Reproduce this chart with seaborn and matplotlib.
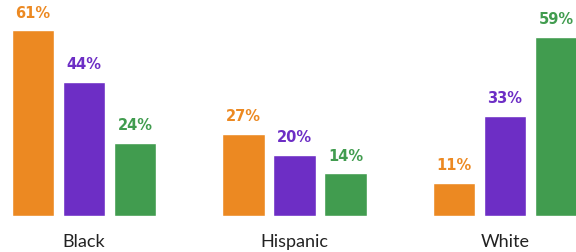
import matplotlib
matplotlib.use("Agg")
import matplotlib.pyplot as plt
import seaborn as sns
import pandas as pd

groups = ["Black", "Hispanic", "White"]
series = ["Series 1", "Series 2", "Series 3"]
values_s1 = [61, 27, 11]
values_s2 = [44, 20, 33]
values_s3 = [24, 14, 59]
colors = ["#EC8922", "#6D2EC5", "#419C4F"]

rows = []
for s, vals in zip(series, [values_s1, values_s2, values_s3]):
    for g, v in zip(groups, vals):
        rows.append({"group": g, "series": s, "value": v})
df = pd.DataFrame(rows)

sns.set_style("white")
plt.rcParams["font.family"] = ["Lato", "DejaVu Sans"]

fig = plt.figure(figsize=(5.76, 2.52), dpi=100)
ax = fig.add_axes([0, 36 / 252, 1, 216 / 252])
sns.barplot(data=df, x="group", y="value", hue="series", order=groups,
            hue_order=series, palette=colors, width=0.727, gap=0.175,
            saturation=1, legend=False, ax=ax)

ax.set_xlim(-0.399, 2.337)
ax.set_ylim(0, 71)
for side in ["top", "right", "left", "bottom"]:
    ax.spines[side].set_visible(False)
ax.set_yticks([])
ax.set_xlabel("")
ax.set_ylabel("")
ax.tick_params(axis="x", length=0, pad=13, labelsize=13, labelcolor="#222222")

for cont, col in zip(ax.containers, colors):
    ax.bar_label(cont, labels=[f"{int(v)}%" for v in cont.datavalues],
                 padding=7, color=col, fontsize=10.5, fontweight="bold",
                 family=["DejaVu Sans"])

fig.savefig("out.png", dpi=100)
